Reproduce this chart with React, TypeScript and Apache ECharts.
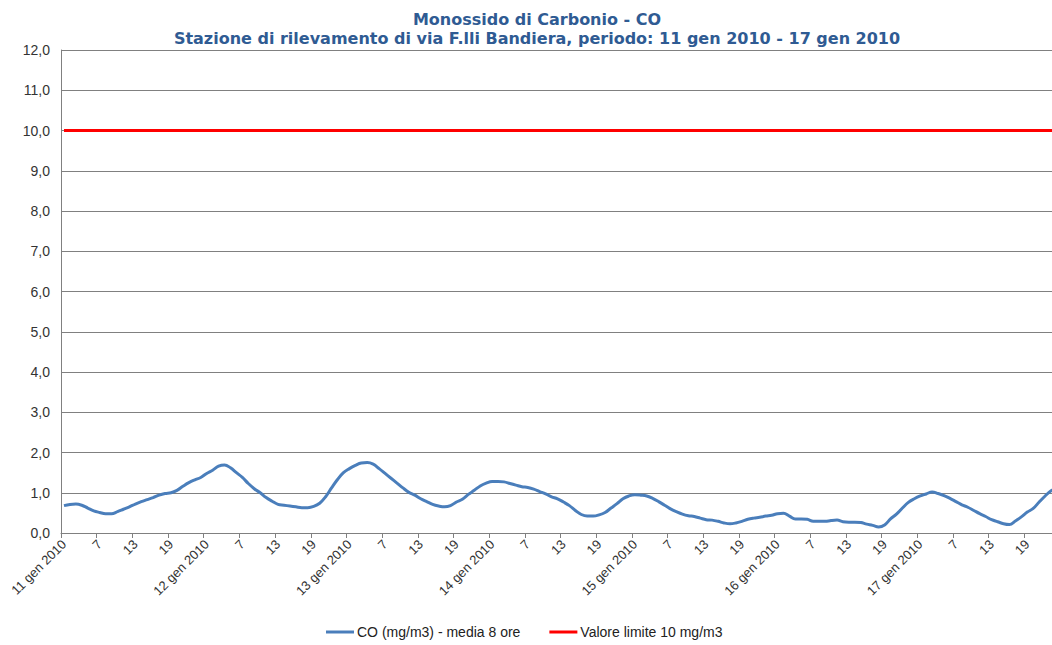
import React, { useEffect, useRef } from "react";
import * as echarts from "echarts";

const DAYS = ["11 gen 2010", "12 gen 2010", "13 gen 2010", "14 gen 2010", "15 gen 2010", "16 gen 2010", "17 gen 2010"];
const HOURS = [1, 2, 3, 4, 5, 6, 7, 8, 9, 10, 11, 12, 13, 14, 15, 16, 17, 18, 19, 20, 21, 22, 23, 24];

// CO (mg/m3) - media 8 ore, hourly, per day
const CO_DAY1 = [0.68, 0.71, 0.72, 0.69, 0.62, 0.55, 0.51, 0.48, 0.48, 0.53, 0.59, 0.65, 0.72, 0.78, 0.83, 0.88, 0.94, 0.98, 1.0, 1.06, 1.16, 1.25, 1.32, 1.38];
const CO_DAY2 = [1.48, 1.56, 1.66, 1.69, 1.62, 1.5, 1.38, 1.23, 1.1, 1.0, 0.88, 0.79, 0.71, 0.69, 0.67, 0.65, 0.63, 0.63, 0.66, 0.74, 0.9, 1.12, 1.33, 1.5];
const CO_DAY3 = [1.6, 1.68, 1.74, 1.75, 1.71, 1.6, 1.48, 1.36, 1.24, 1.12, 1.01, 0.94, 0.85, 0.78, 0.71, 0.67, 0.65, 0.68, 0.77, 0.84, 0.96, 1.06, 1.17, 1.24];
const CO_DAY4 = [1.28, 1.28, 1.27, 1.23, 1.19, 1.15, 1.13, 1.09, 1.03, 0.97, 0.9, 0.85, 0.77, 0.68, 0.56, 0.46, 0.42, 0.42, 0.45, 0.51, 0.62, 0.73, 0.85, 0.92];
const CO_DAY5 = [0.95, 0.94, 0.92, 0.86, 0.78, 0.69, 0.6, 0.53, 0.47, 0.43, 0.41, 0.37, 0.33, 0.32, 0.29, 0.25, 0.23, 0.25, 0.29, 0.34, 0.37, 0.39, 0.42, 0.44];
const CO_DAY6 = [0.48, 0.49, 0.42, 0.35, 0.35, 0.34, 0.29, 0.29, 0.29, 0.31, 0.32, 0.28, 0.27, 0.27, 0.26, 0.22, 0.19, 0.15, 0.2, 0.35, 0.47, 0.62, 0.76, 0.85];
const CO_DAY7 = [0.92, 0.97, 1.02, 0.98, 0.93, 0.86, 0.78, 0.7, 0.64, 0.56, 0.48, 0.41, 0.33, 0.28, 0.23, 0.21, 0.3, 0.4, 0.52, 0.61, 0.77, 0.92, 1.05, 1.12];

const LIMIT_VALUE = 10;
const Y_TICKS = [0, 1, 2, 3, 4, 5, 6, 7, 8, 9, 10, 11, 12];

const TITLE_LINE1 = "Monossido di Carbonio - CO";
const TITLE_LINE2 = "Stazione di rilevamento di via F.lli Bandiera, periodo: 11 gen 2010 - 17 gen 2010";
const SERIES_CO = "CO (mg/m3) - media 8 ore";
const SERIES_LIMIT = "Valore limite 10 mg/m3";

export default function App() {
  const ref = useRef<HTMLDivElement>(null);

  useEffect(() => {
    if (!ref.current) return;
    document.body.style.margin = "0";
    const chart = echarts.init(ref.current, null, { renderer: "svg" });

    const categories: string[] = [];
    DAYS.forEach((d) => HOURS.forEach((h) => categories.push(d + "|" + h)));
    const coValues = [...CO_DAY1, ...CO_DAY2, ...CO_DAY3, ...CO_DAY4, ...CO_DAY5, ...CO_DAY6, ...CO_DAY7];
    const limitValues = categories.map(() => LIMIT_VALUE);

    const gridColor = "#808080";
    const labelFont = "Liberation Sans, Arial, sans-serif";

    chart.setOption({
      animation: false,
      backgroundColor: "#ffffff",
      title: {
        text: TITLE_LINE1 + "\n" + TITLE_LINE2,
        left: 532,
        textAlign: "center",
        top: 5,
        textStyle: {
          fontFamily: "DejaVu Sans, Verdana, sans-serif",
          fontWeight: "bold",
          fontSize: 16,
          lineHeight: 19,
          color: "#2F5B93",
        },
      },
      legend: {
        top: 625,
        left: 326,
        padding: 0,
        itemGap: 29,
        itemWidth: 28,
        itemHeight: 3,
        icon: "rect",
        textStyle: { fontFamily: labelFont, fontSize: 14, color: "#222", padding: [0, 0, 0, -2] },
        data: [SERIES_CO, SERIES_LIMIT],
      },
      grid: { left: 61, top: 50, width: 999, height: 483, containLabel: false },
      xAxis: {
        type: "category",
        data: categories,
        boundaryGap: true,
        axisLine: { show: true, lineStyle: { color: gridColor, width: 1 } },
        axisTick: { show: true, interval: 5, length: 5, lineStyle: { color: gridColor } },
        axisLabel: {
          interval: 5,
          rotate: 45,
          margin: 9,
          fontFamily: labelFont,
          fontSize: 13,
          color: "#333",
          formatter: (v: string) => {
            const [day, h] = v.split("|");
            return h === "1" ? day : h;
          },
        },
        splitLine: { show: false },
      },
      yAxis: {
        type: "value",
        min: Y_TICKS[0],
        max: Y_TICKS[Y_TICKS.length - 1],
        interval: 1,
        axisLine: { show: true, lineStyle: { color: gridColor, width: 1 } },
        axisTick: { show: false },
        axisLabel: {
          margin: 11,
          fontFamily: labelFont,
          fontSize: 14,
          color: "#333",
          formatter: (v: number) => v.toFixed(1).replace(".", ","),
        },
        splitLine: { show: true, lineStyle: { color: gridColor, width: 1 } },
      },
      series: [
        {
          name: SERIES_CO,
          type: "line",
          data: coValues,
          smooth: 0.4,
          showSymbol: false,
          symbol: "none",
          itemStyle: { color: "#4A7EBB" },
          lineStyle: { color: "#4A7EBB", width: 3 },
          z: 3,
        },
        {
          name: SERIES_LIMIT,
          type: "line",
          data: limitValues,
          showSymbol: false,
          symbol: "none",
          itemStyle: { color: "#FF0000" },
          lineStyle: { color: "#FF0000", width: 3 },
          z: 2,
        },
      ],
    });

    return () => chart.dispose();
  }, []);

  return <div ref={ref} style={{ position: "fixed", left: 0, top: 0, width: 1064, height: 645 }} />;
}
